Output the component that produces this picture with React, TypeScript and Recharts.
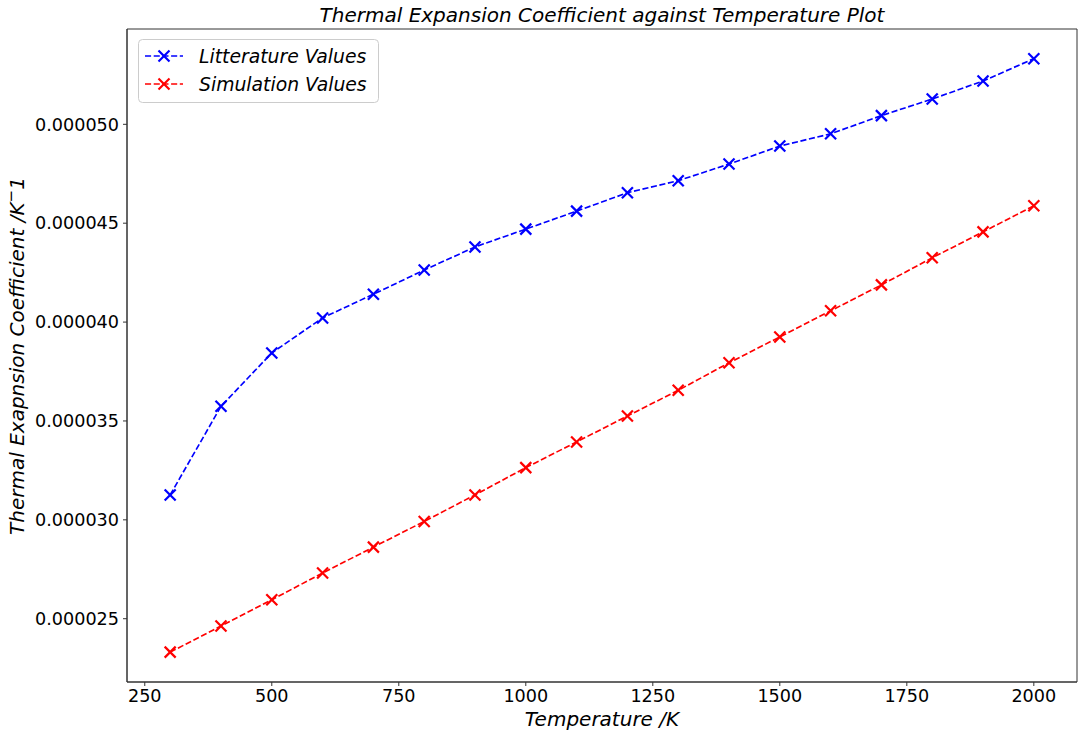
import React from "react";
import { LineChart, Line, XAxis, YAxis, ReferenceArea } from "recharts";

const temperatures = [300, 400, 500, 600, 700, 800, 900, 1000, 1100, 1200, 1300, 1400, 1500, 1600, 1700, 1800, 1900, 2000];

const literatureValues = [
  31.26e-6, 35.74e-6, 38.44e-6, 40.21e-6, 41.41e-6, 42.63e-6, 43.8e-6, 44.7e-6, 45.61e-6,
  46.54e-6, 47.15e-6, 47.99e-6, 48.9e-6, 49.52e-6, 50.44e-6, 51.28e-6, 52.19e-6, 53.32e-6,
];

const simulationValues = [
  23.31e-6, 24.63e-6, 25.96e-6, 27.31e-6, 28.62e-6, 29.92e-6, 31.26e-6, 32.64e-6, 33.94e-6,
  35.25e-6, 36.55e-6, 37.94e-6, 39.25e-6, 40.57e-6, 41.88e-6, 43.25e-6, 44.56e-6, 45.88e-6,
];

const xTicks = [250, 500, 750, 1000, 1250, 1500, 1750, 2000];
const yTicks = [25e-6, 30e-6, 35e-6, 40e-6, 45e-6, 50e-6];

const X_DOMAIN: [number, number] = [215, 2085];
const Y_DOMAIN: [number, number] = [21.8e-6, 54.82e-6];

const FONT = '"DejaVu Sans", sans-serif';
const BLUE = "#0000ff";
const RED = "#ff0000";
const DASH = "6.1 2.6";

const data = temperatures.map((t, i) => ({
  t,
  lit: literatureValues[i],
  sim: simulationValues[i],
}));

const legendItems = [
  { name: "Litterature Values", color: BLUE },
  { name: "Simulation Values", color: RED },
];

function Cross({ cx, cy, color }: { cx: number; cy: number; color: string }) {
  const r = 5.5;
  return (
    <g>
      <line x1={cx - r} y1={cy - r} x2={cx + r} y2={cy + r} stroke={color} strokeWidth={2.2} />
      <line x1={cx - r} y1={cy + r} x2={cx + r} y2={cy - r} stroke={color} strokeWidth={2.2} />
    </g>
  );
}

const crossDot = (color: string) => (props: any) => {
  const { cx, cy, index } = props;
  if (cx == null || cy == null) return <g key={`${color}-${index}`} />;
  return (
    <g key={`${color}-${index}`}>
      <Cross cx={cx} cy={cy} color={color} />
    </g>
  );
};

// legend drawn as an overlay so the chart does not reserve space for it
function LegendBox() {
  return (
    <svg width={241} height={64} style={{ position: "absolute", left: 138, top: 39, display: "block", zIndex: 2 }}>
      <rect x={0.5} y={0.5} width={240} height={63} rx={4} fill="rgba(255,255,255,0.8)" stroke="#cccccc" />
      {legendItems.map((item, i) => {
        const cy = 17 + i * 28;
        return (
          <g key={item.name}>
            <line x1={7} y1={cy} x2={45} y2={cy} stroke={item.color} strokeWidth={1.65} strokeDasharray={DASH} />
            <Cross cx={26} cy={cy} color={item.color} />
            <text x={61} y={cy + 7} fontFamily={FONT} fontStyle="italic" fontSize={18.8} fill="#000">
              {item.name}
            </text>
          </g>
        );
      })}
    </svg>
  );
}

const renderYLabel = () => (
  <text
    x={24}
    y={356}
    transform="rotate(-90 24 356)"
    textAnchor="middle"
    fontFamily={FONT}
    fontStyle="italic"
    fontSize={20}
    fill="#000"
  >
    Thermal Exapnsion Coefficient /K
    <tspan dy={-8} fontSize={15}>−</tspan>
    <tspan dy={8} fontSize={20}>1</tspan>
  </text>
);

const renderXLabel = (props: any) => {
  const vb = props.viewBox || { x: 127, y: 682, width: 950 };
  return (
    <text
      x={vb.x + vb.width / 2}
      y={vb.y + 44}
      textAnchor="middle"
      fontFamily={FONT}
      fontStyle="italic"
      fontSize={20}
      fill="#000"
    >
      Temperature /K
    </text>
  );
};

const tickStyle = { fontSize: 17.6, fill: "#000", fontFamily: FONT };

export default function App() {
  return (
    <div style={{ position: "absolute", left: 0, top: 0, width: 1086, height: 740, background: "#fff" }}>
      <div
        style={{
          position: "absolute",
          left: 127,
          width: 950,
          top: 4,
          textAlign: "center",
          fontFamily: FONT,
          fontStyle: "italic",
          fontSize: 20,
          lineHeight: "23px",
          zIndex: 2,
        }}
      >
        Thermal Expansion Coefficient against Temperature Plot
      </div>
      <LineChart width={1086} height={740} data={data} margin={{ top: 29, right: 9, left: 7, bottom: 8 }}>
        <XAxis
          type="number"
          dataKey="t"
          domain={X_DOMAIN}
          ticks={xTicks}
          allowDataOverflow
          height={50}
          tickSize={4}
          tickMargin={4}
          tick={tickStyle}
          stroke="#333"
          tickLine={{ stroke: "#333" }}
          label={renderXLabel}
        />
        <YAxis
          type="number"
          domain={Y_DOMAIN}
          ticks={yTicks}
          allowDataOverflow
          width={120}
          tickSize={4}
          tickMargin={4}
          tick={tickStyle}
          stroke="#333"
          tickLine={{ stroke: "#333" }}
          tickFormatter={(v: number) => v.toFixed(6)}
          label={renderYLabel}
        />
        <ReferenceArea
          x1={X_DOMAIN[0]}
          x2={X_DOMAIN[1]}
          y1={Y_DOMAIN[0]}
          y2={Y_DOMAIN[1]}
          fill="none"
          fillOpacity={0}
          stroke="#333"
          strokeWidth={1}
        />
        <Line
          dataKey="lit"
          name="Litterature Values"
          stroke={BLUE}
          strokeWidth={1.65}
          strokeDasharray={DASH}
          dot={crossDot(BLUE)}
          activeDot={false}
          isAnimationActive={false}
        />
        <Line
          dataKey="sim"
          name="Simulation Values"
          stroke={RED}
          strokeWidth={1.65}
          strokeDasharray={DASH}
          dot={crossDot(RED)}
          activeDot={false}
          isAnimationActive={false}
        />
      </LineChart>
      <LegendBox />
    </div>
  );
}
